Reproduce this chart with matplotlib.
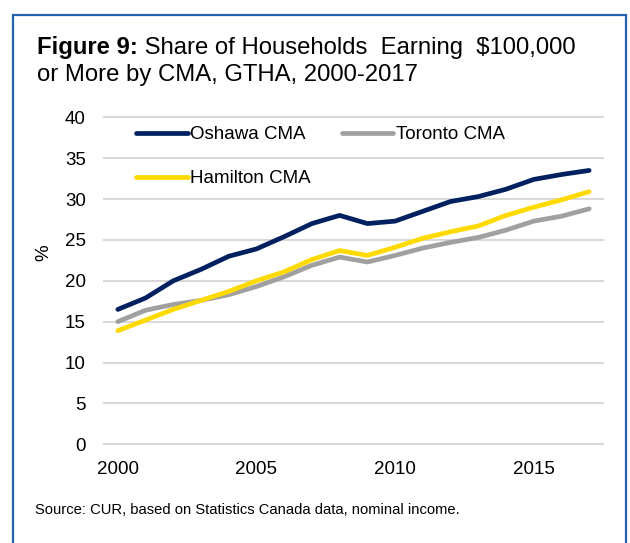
import matplotlib
matplotlib.use("Agg")
import matplotlib.pyplot as plt
from matplotlib.patches import Rectangle

years = list(range(2000, 2018))
oshawa = [16.5, 17.9, 20.0, 21.4, 23.0, 23.9, 25.4, 27.0, 28.0, 27.0, 27.3, 28.5, 29.7, 30.3, 31.2, 32.4, 33.0, 33.5]
toronto = [15.0, 16.4, 17.1, 17.6, 18.3, 19.3, 20.5, 21.9, 22.9, 22.3, 23.1, 24.0, 24.7, 25.3, 26.2, 27.3, 27.9, 28.8]
hamilton = [13.9, 15.2, 16.5, 17.6, 18.7, 20.0, 21.1, 22.6, 23.7, 23.1, 24.1, 25.2, 26.0, 26.7, 28.0, 29.0, 29.9, 30.9]
series_names = ["Oshawa CMA", "Toronto CMA", "Hamilton CMA"]
xticks = [2000, 2005, 2010, 2015]
yticks = [0, 5, 10, 15, 20, 25, 30, 35, 40]

plt.rcParams['font.family'] = ['Liberation Sans', 'DejaVu Sans']

W, H = 630, 543
fig = plt.figure(figsize=(W / 100, H / 100), dpi=100)

# frame border
fig.patches.append(Rectangle((12.7 / W, -0.05), (625.7 - 12.7) / W, 1.05 - 15.3 / H,
                             transform=fig.transFigure, fill=False,
                             edgecolor='#2360AE', linewidth=1.6))

ax_left, ax_right = 104 / W, 603 / W
ax_top, ax_bottom = 1 - 117.3 / H, 1 - 444.3 / H
ax = fig.add_axes([ax_left, ax_bottom, ax_right - ax_left, ax_top - ax_bottom])

colors = ['#002060', '#A0A0A0', '#FFDA00']
lines = []
for vals, name, c in zip([oshawa, toronto, hamilton], series_names, colors):
    ln, = ax.plot(years, vals, color=c, lw=3.4, solid_capstyle='round',
                  solid_joinstyle='round', label=name, zorder=3)
    lines.append(ln)

ax.set_xlim(1999.5, 2017.5)
ax.set_ylim(0, 40)
ax.set_xticks(xticks)
ax.set_yticks(yticks)
ax.tick_params(length=0, labelsize=13.5, colors='#000000')
ax.tick_params(axis='y', pad=13)
ax.tick_params(axis='x', pad=12)
for s in ax.spines.values():
    s.set_visible(False)
ax.grid(axis='y', color='#D9D9D9', lw=1.5)
ax.set_axisbelow(True)
for gl in ax.get_ygridlines():
    gl.set_clip_on(False)

ax.set_ylabel('%', fontsize=13.5)
ax.yaxis.set_label_coords((52.5 - 104) / (603 - 104), 0.585)

leg = ax.legend([lines[0], lines[2], lines[1]], [series_names[0], series_names[2], series_names[1]],
                ncol=2, loc='upper left', bbox_to_anchor=(136 / W, 1 - 126 / H),
                bbox_transform=fig.transFigure, frameon=False, fontsize=13.5,
                handlelength=2.75, handletextpad=0.13, columnspacing=1.65,
                labelspacing=1.43, borderpad=0, borderaxespad=0)

# title
fig.canvas.draw()
r = fig.canvas.get_renderer()
t1 = fig.text(37 / W, 1 - 54 / H, 'Figure 9:', fontsize=17.2, fontweight='bold', va='baseline')
bb = t1.get_window_extent(renderer=r)
fig.text(bb.x1 / W, 1 - 54 / H, ' Share of Households  Earning  $100,000', fontsize=17.2, va='baseline')
fig.text(37 / W, 1 - 81 / H, 'or More by CMA, GTHA, 2000-2017', fontsize=17.2, va='baseline')

fig.text(35 / W, 1 - 510 / H, 'Source: CUR, based on Statistics Canada data, nominal income.',
         fontsize=10.6, va='center')

fig.savefig('out.png', dpi=100)
